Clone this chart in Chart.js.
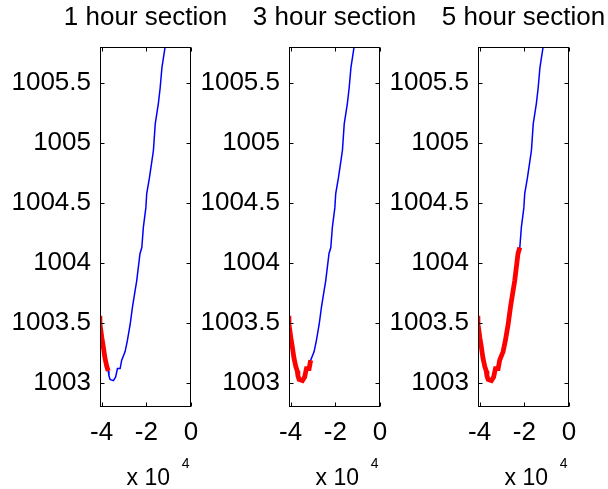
<!DOCTYPE html>
<html>
<head>
<meta charset="utf-8">
<script src="https://cdn.jsdelivr.net/npm/chart.js@4.4.1/dist/chart.umd.min.js"></script>
<style>
  html, body { margin: 0; padding: 0; background: #fff; overflow: hidden; width: 608px; height: 489px; }
  canvas { position: absolute; top: 0; }
</style>
</head>
<body>
<canvas id="c0" width="291" height="489" style="left:0px"></canvas>
<canvas id="c1" width="291" height="489" style="left:189px"></canvas>
<canvas id="c2" width="291" height="489" style="left:378px"></canvas>
<script>
const titles = ['1 hour section', '3 hour section', '5 hour section'];
const xTicks = [-40000, -20000, 0];
const yTicks = [1003, 1003.5, 1004, 1004.5, 1005, 1005.5];

// pressure curve, same in all three panels
const curveX = [-40750, -40700, -39900, -39200, -38500, -37700, -37000, -36700, -36200, -34700, -33700, -32900, -31700, -31000, -29500, -28500, -27200, -26200, -25000, -24300, -22800, -22000, -21300, -20200, -19800, -18600, -17500, -16800, -16000, -14600, -13800, -13000, -11600];
const curveY = [1003.56, 1003.49, 1003.38, 1003.30, 1003.21, 1003.14, 1003.10, 1003.06, 1003.03, 1003.02, 1003.05, 1003.12, 1003.12, 1003.19, 1003.26, 1003.35, 1003.49, 1003.63, 1003.77, 1003.85, 1004.08, 1004.13, 1004.30, 1004.46, 1004.58, 1004.71, 1004.85, 1004.94, 1005.16, 1005.33, 1005.46, 1005.63, 1005.80];

// last x of the highlighted (red) section in each panel
const redEndX = [-37000, -31000, -22000];

const FONT = "'Liberation Sans', Arial, Helvetica, sans-serif";

const boxPlugin = {
  id: 'boxPlugin',
  afterDraw(chart) {
    const { ctx, chartArea: a, scales } = chart;
    const L = Math.round(a.left) + 0.5, R = Math.round(a.right) - 0.5;
    const T = Math.round(a.top) + 0.5, B = Math.round(a.bottom) - 0.5;
    ctx.save();
    ctx.strokeStyle = '#000';
    ctx.lineWidth = 1;
    ctx.strokeRect(L, T, R - L, B - T);
    ctx.beginPath();
    xTicks.forEach(v => {
      const px = Math.round(scales.x.getPixelForValue(v)) + 0.5;
      ctx.moveTo(px, B); ctx.lineTo(px, B - 4);
      ctx.moveTo(px, T); ctx.lineTo(px, T + 4);
    });
    yTicks.forEach(v => {
      const py = Math.round(scales.y.getPixelForValue(v)) + 0.5;
      ctx.moveTo(L, py); ctx.lineTo(L + 4, py);
      ctx.moveTo(R, py); ctx.lineTo(R - 4, py);
    });
    ctx.stroke();

    // x 10^4 exponent label
    ctx.fillStyle = '#000';
    ctx.textAlign = 'right';
    ctx.textBaseline = 'alphabetic';
    ctx.font = '23px ' + FONT;
    ctx.fillText('x 10', a.right - 21, 485);
    ctx.font = '14px ' + FONT;
    ctx.fillText('4', a.right - 1.5, 468);
    ctx.restore();
  }
};

const makePanel = (i) => {
  const points = curveX.map((x, k) => ({ x: x, y: curveY[k] }));
  const redPoints = points.filter(p => p.x <= redEndX[i]);

  new Chart(document.getElementById('c' + i), {
    type: 'line',
    data: {
      datasets: [
        {
          data: redPoints,
          borderColor: '#ff0000',
          borderWidth: 4.8,
          pointRadius: 0,
          tension: 0
        },
        {
          data: points,
          borderColor: '#0000ff',
          borderWidth: 1.5,
          pointRadius: 0,
          tension: 0
        }
      ]
    },
    options: {
      responsive: false,
      animation: false,
      devicePixelRatio: 1,
      layout: { padding: 0 },
      plugins: {
        legend: { display: false },
        tooltip: { enabled: false },
        title: {
          display: true,
          text: titles[i],
          color: '#000',
          font: { size: 26, weight: 'normal', family: FONT },
          padding: { top: 2, bottom: 14 }
        }
      },
      scales: {
        x: {
          type: 'linear',
          min: -40700,
          max: 0,
          afterBuildTicks: s => { s.ticks = xTicks.map(v => ({ value: v })); },
          afterFit: s => { s.height = 82; },
          grid: { display: false, drawTicks: false },
          border: { display: false },
          ticks: {
            padding: 10,
            color: '#000',
            maxRotation: 0,
            autoSkip: false,
            font: { size: 26, family: FONT },
            callback: v => String(v / 10000)
          }
        },
        y: {
          type: 'linear',
          min: 1002.8,
          max: 1005.8,
          afterBuildTicks: s => { s.ticks = yTicks.map(v => ({ value: v })); },
          afterFit: s => { s.width = 100; },
          grid: { display: false, drawTicks: false },
          border: { display: false },
          ticks: {
            padding: 9,
            color: '#000',
            autoSkip: false,
            font: { size: 26, family: FONT },
            callback: v => String(v)
          }
        },
        // empty right-hand spacer so the plot box sits centred under the title
        y2: {
          type: 'linear',
          position: 'right',
          afterFit: s => { s.width = 100; },
          grid: { display: false, drawTicks: false },
          border: { display: false },
          ticks: { display: false }
        }
      }
    },
    plugins: [boxPlugin]
  });
};

[0, 1, 2].forEach(makePanel);
</script>
</body>
</html>
